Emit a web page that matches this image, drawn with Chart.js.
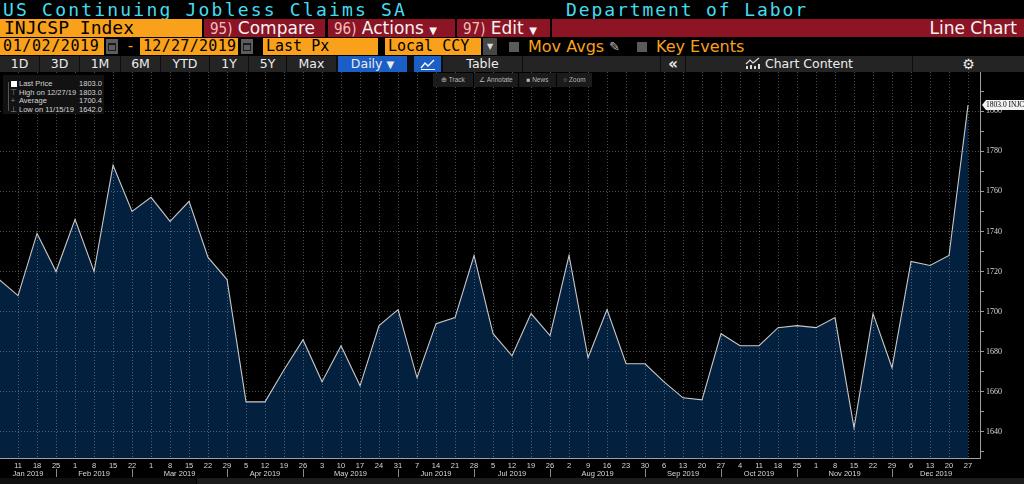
<!DOCTYPE html>
<html>
<head>
<meta charset="utf-8">
<script src="https://cdn.jsdelivr.net/npm/chart.js@4.4.1/dist/chart.umd.min.js"></script>
<style>
  html, body { margin: 0; padding: 0; background: #000; }
  body { width: 1024px; height: 484px; position: relative; overflow: hidden; font-family: "DejaVu Sans", sans-serif; }
  .b { position: absolute; box-sizing: border-box; white-space: nowrap; overflow: hidden; }
  .mono { font-family: "DejaVu Sans Mono", monospace; }
  .org { background: #f9a11b; color: #000; }
  .red { background: #8c1424; color: #f4f4f4; font-size: 17px; line-height: 18px; top: 19px; height: 18px; padding-left: 6px; }
  .red .n { font-family: "Liberation Sans Narrow", "DejaVu Sans Condensed", sans-serif; color: #efc0c0; font-size: 15px; }
  .r3 { top: 38px; height: 17px; line-height: 17px; font-size: 15px; padding-left: 3px; }
  .ico { top: 39px; height: 15px; width: 12px; background: #5c5c5c; }
  .ico i { position: absolute; left: 2px; top: 4px; width: 6px; height: 5px; border: 1px solid #1a1a1a; border-top-width: 2px; }
  .tb { top: 56px; height: 16px; line-height: 16px; background: #242424; color: #ececec; font-size: 12.5px; text-align: center; }
  .chk { top: 42px; width: 10px; height: 10px; background: #5a5a5a; }
  .otx { top: 38px; line-height: 17px; color: #f9a11b; font-size: 16px; }
  .tool { top: 73px; height: 14px; line-height: 14px; background: #1b1b1b; color: #b8b8b8; font-size: 6.5px; text-align: center; font-family: "Liberation Sans", sans-serif; z-index: 3; }
  #legend { left: 3px; top: 75px; width: 101px; height: 39px; background: #121212; z-index: 3; font-family: "Liberation Sans", sans-serif; font-size: 7.5px; color: #d4d4d4; }
  #legend .row { position: absolute; left: 0; width: 100%; height: 9px; line-height: 9px; }
  #legend .lab { position: absolute; left: 16px; }
  #legend .val { position: absolute; right: 2px; }
  #legend .sym { position: absolute; left: 6px; width: 8px; text-align: center; color: #8a8a8a; }
  #wrap { position: absolute; left: 0; top: 72px; width: 1024px; height: 406px; }
</style>
</head>
<body>
<!-- title row -->
<div class="b mono" style="left:3px;top:0;height:19px;line-height:19px;font-size:18px;letter-spacing:2.2px;color:#44dcee;">US Continuing Jobless Claims SA</div>
<div class="b mono" style="left:566px;top:0;height:19px;line-height:19px;font-size:18px;letter-spacing:1.9px;color:#44dcee;">Department of Labor</div>

<!-- ticker / action row -->
<div class="b mono org" style="left:0;top:19px;width:202px;height:18px;line-height:18px;font-size:18px;padding-left:4px;">INJCSP Index</div>
<div class="b red" style="left:204px;width:121px;"><span class="n">95)</span> Compare</div>
<div class="b red" style="left:328px;width:127px;"><span class="n">96)</span> Actions <span style="font-size:10px">▼</span></div>
<div class="b red" style="left:457px;width:93px;"><span class="n">97)</span> Edit <span style="font-size:10px">▼</span></div>
<div class="b red" style="left:552px;width:472px;text-align:right;padding-right:7px;">Line Chart</div>

<!-- date range row -->
<div class="b mono org r3" style="left:0;width:104px;letter-spacing:0.6px;">01/02/2019</div>
<div class="b ico" style="left:106px;"><i></i></div>
<div class="b mono" style="left:126px;top:38px;line-height:17px;font-size:15px;color:#f9a11b;">-</div>
<div class="b mono org r3" style="left:140px;width:98px;letter-spacing:0.3px;">12/27/2019</div>
<div class="b ico" style="left:241px;"><i></i></div>
<div class="b mono org r3" style="left:263px;width:115px;">Last Px</div>
<div class="b mono org r3" style="left:385px;width:96px;">Local CCY</div>
<div class="b" style="left:483px;top:38px;width:14px;height:17px;line-height:17px;background:#464646;color:#ddd;font-size:8px;text-align:center;">▼</div>
<div class="b chk" style="left:509px;"></div>
<div class="b otx" style="left:528px;">Mov Avgs</div>
<div class="b" style="left:609px;top:38px;line-height:17px;font-size:13px;color:#bdbdbd;">✎</div>
<div class="b chk" style="left:637px;"></div>
<div class="b otx" style="left:656px;">Key Events</div>

<!-- period buttons row -->
<div class="b" style="left:0;top:56px;width:1024px;height:16px;background:#0d0d0d;"></div>
<div class="b tb" style="left:0;width:39px;">1D</div>
<div class="b tb" style="left:40px;width:39px;">3D</div>
<div class="b tb" style="left:80px;width:40px;">1M</div>
<div class="b tb" style="left:121px;width:39px;">6M</div>
<div class="b tb" style="left:161px;width:48px;">YTD</div>
<div class="b tb" style="left:210px;width:38px;">1Y</div>
<div class="b tb" style="left:249px;width:37px;">5Y</div>
<div class="b tb" style="left:287px;width:49px;">Max</div>
<div class="b tb" style="left:338px;width:69px;background:#1b5fc6;">Daily <span style="font-size:10px">▼</span></div>
<div class="b tb" style="left:414px;width:27px;background:#1b5fc6;"><svg width="16" height="12" style="margin-top:2px" viewBox="0 0 16 12"><polyline points="1,10 5,5 8,8 14,2" fill="none" stroke="#fff" stroke-width="1.3"/><line x1="1" y1="11.5" x2="15" y2="11.5" stroke="#fff" stroke-width="1"/></svg></div>
<div class="b tb" style="left:443px;width:79px;">Table</div>
<div class="b tb" style="left:523px;width:137px;"></div>
<div class="b tb" style="left:661px;width:24px;font-weight:bold;font-size:15px;">«</div>
<div class="b tb" style="left:686px;width:226px;"><svg width="16" height="12" style="vertical-align:-1px" viewBox="0 0 16 12"><polyline points="1,7 5,3 8,6 14,1" fill="none" stroke="#ddd" stroke-width="1.2"/><rect x="1" y="9" width="2" height="3" fill="#ddd"/><rect x="5" y="8" width="2" height="4" fill="#ddd"/><rect x="9" y="9" width="2" height="3" fill="#ddd"/><rect x="13" y="7" width="2" height="5" fill="#ddd"/></svg> Chart Content</div>
<div class="b tb" style="left:913px;width:111px;font-size:14px;">⚙</div>

<!-- chart tools -->
<div class="b tool" style="left:433px;width:40px;">⊕ Track</div>
<div class="b tool" style="left:474px;width:44px;">∠ Annotate</div>
<div class="b tool" style="left:519px;width:37px;">■ News</div>
<div class="b tool" style="left:557px;width:35px;">○ Zoom</div>

<div class="b" id="legend"></div>

<div id="wrap"><canvas id="chart"></canvas></div>
<div class="b" style="left:0;top:478px;width:196px;height:6px;background:#0f0f0f;"></div>
<div class="b" style="left:197px;top:478px;width:827px;height:6px;background:#1c1c1c;"></div>

<script>
// weekly observation dates (week ending)
const dates = ['2019-01-04','2019-01-11','2019-01-18','2019-01-25','2019-02-01','2019-02-08','2019-02-15','2019-02-22',
  '2019-03-01','2019-03-08','2019-03-15','2019-03-22','2019-03-29','2019-04-05','2019-04-12','2019-04-19','2019-04-26',
  '2019-05-03','2019-05-10','2019-05-17','2019-05-24','2019-05-31','2019-06-07','2019-06-14','2019-06-21','2019-06-28',
  '2019-07-05','2019-07-12','2019-07-19','2019-07-26','2019-08-02','2019-08-09','2019-08-16','2019-08-23','2019-08-30',
  '2019-09-06','2019-09-13','2019-09-20','2019-09-27','2019-10-04','2019-10-11','2019-10-18','2019-10-25',
  '2019-11-01','2019-11-08','2019-11-15','2019-11-22','2019-11-29','2019-12-06','2019-12-13','2019-12-20','2019-12-27'];

// continuing claims, thousands
const claims = [1716, 1708, 1739, 1720, 1746, 1720, 1773, 1750,
  1757, 1745, 1755, 1727, 1716, 1655, 1655, 1671, 1686,
  1665, 1683, 1663, 1693, 1701, 1667, 1694, 1697, 1728,
  1689, 1678, 1699, 1688, 1728, 1677, 1701, 1674, 1674,
  1665, 1657, 1656, 1689, 1683, 1683, 1692, 1693,
  1692, 1697, 1642, 1699, 1672, 1725, 1723, 1728, 1803];

const monthNames = ['Jan','Feb','Mar','Apr','May','Jun','Jul','Aug','Sep','Oct','Nov','Dec'];
const yLabels = [1640, 1660, 1680, 1700, 1720, 1740, 1760, 1780, 1800];
const yMinor = [1630, 1650, 1670, 1690, 1710, 1730, 1750, 1770, 1790, 1810];

const legendLabels = ['Last Price', 'High on 12/27/19', 'Average', 'Low on 11/15/19'];
const legendValues = ['1803.0', '1803.0', '1700.4', '1642.0'];
const legendSyms = ['', '⊤', '+', '⊥'];

// legend box
const lg = document.getElementById('legend');
legendLabels.forEach((l, i) => {
  const row = document.createElement('div');
  row.className = 'row';
  row.style.top = (4 + i * 8.5) + 'px';
  const sym = i === 0
    ? '<span class="sym" style="left:8px;top:1.5px;width:6px;height:6px;background:#fff;"></span>'
    : '<span class="sym">' + legendSyms[i] + '</span>';
  row.innerHTML = sym + '<span class="lab">' + l + '</span><span class="val">' + legendValues[i] + '</span>';
  lg.appendChild(row);
});
const bracket = document.createElement('div');
bracket.style.cssText = 'position:absolute;left:5px;top:7px;width:1px;height:29px;background:#555;';
lg.appendChild(bracket);

const sansFont = "'Liberation Sans', 'DejaVu Sans', sans-serif";
const serifFont = "'Liberation Serif', 'DejaVu Serif', serif";
const gridCol = 'rgba(255,255,255,0.3)';

// month names under the day ticks, with separators at each month's last week
const monthRow = {
  id: 'monthRow',
  afterDraw(chart) {
    const { ctx, chartArea } = chart;
    const x = chart.scales.x;
    ctx.save();
    ctx.font = '7.5px ' + sansFont;
    ctx.fillStyle = '#d8d8d8';
    ctx.textAlign = 'center';
    ctx.textBaseline = 'middle';
    ctx.strokeStyle = '#8a8a8a';
    ctx.lineWidth = 1;
    let segStart = chartArea.left;
    monthNames.forEach((m, mi) => {
      const idx = [];
      dates.forEach((d, i) => { if (+d.slice(5, 7) === mi + 1) idx.push(i); });
      if (!idx.length) return;
      const isLast = mi === monthNames.length - 1;
      const end = isLast ? chartArea.right : x.getPixelForValue(idx[idx.length - 1]);
      ctx.fillText(m + ' ' + dates[idx[0]].slice(0, 4), (segStart + end) / 2, chartArea.bottom + 15.5);
      if (!isLast) {
        const px = Math.round(end) + 0.5;
        ctx.beginPath();
        ctx.moveTo(px, chartArea.bottom + 11);
        ctx.lineTo(px, chartArea.bottom + 19);
        ctx.stroke();
      }
      segStart = end;
    });
    ctx.restore();
  }
};

// white price tag on the right axis
const lastTag = {
  id: 'lastTag',
  afterDraw(chart) {
    const { ctx, chartArea } = chart;
    const y = chart.scales.y;
    const v = claims[claims.length - 1];
    const py = Math.round(y.getPixelForValue(v));
    const x0 = chartArea.right + 2;
    ctx.save();
    ctx.fillStyle = '#f2f2f2';
    ctx.beginPath();
    ctx.moveTo(x0, py);
    ctx.lineTo(x0 + 4, py - 5);
    ctx.lineTo(x0 + 70, py - 5);
    ctx.lineTo(x0 + 70, py + 5);
    ctx.lineTo(x0 + 4, py + 5);
    ctx.closePath();
    ctx.fill();
    ctx.fillStyle = '#000';
    ctx.font = '7.5px ' + serifFont;
    ctx.textBaseline = 'middle';
    ctx.fillText(v.toFixed(1) + ' INJCSP', x0 + 4, py + 0.5);
    ctx.restore();
  }
};

// drop the label overhang padding so the plot fills the canvas edge to edge
const noPad = s => { s.paddingTop = 0; s.paddingBottom = 0; s.paddingLeft = 0; s.paddingRight = 0; };

new Chart(document.getElementById('chart'), {
  type: 'line',
  data: {
    datasets: [{
      data: claims.map((v, i) => ({ x: i, y: v })),
      borderColor: '#c8c8c8',
      borderWidth: 1.1,
      backgroundColor: '#04203f',
      fill: 'start',
      pointRadius: 0,
      tension: 0
    }]
  },
  options: {
    responsive: true,
    maintainAspectRatio: false,
    animation: false,
    layout: { padding: 0 },
    plugins: { legend: { display: false }, tooltip: { enabled: false } },
    scales: {
      x: {
        type: 'linear',
        min: 0.05,
        max: 51.63,
        afterBuildTicks: s => { s.ticks = dates.map((d, i) => ({ value: i })).slice(1); },
        afterFit: s => { s.height = 20; noPad(s); },
        grid: { color: gridCol, lineWidth: 1, drawTicks: false, z: 1 },
        border: { color: '#a0a0a0', dash: [1, 2], z: 2 },
        ticks: {
          autoSkip: false, maxRotation: 0, padding: 3,
          color: '#d8d8d8', font: { family: sansFont, size: 7.5 },
          callback: v => String(+dates[v].slice(8))
        }
      },
      y: {
        position: 'right',
        min: 1627,
        max: 1819.5,
        afterBuildTicks: s => { s.ticks = yLabels.concat(yMinor).sort((a, b) => a - b).map(v => ({ value: v })); },
        afterFit: s => { s.width = 44; noPad(s); },
        grid: {
          color: c => (c.tick && yLabels.includes(c.tick.value)) ? gridCol : 'rgba(0,0,0,0)',
          tickColor: '#9a9a9a', tickLength: 4, z: 1
        },
        border: { color: '#a0a0a0', dash: [1, 2], z: 2 },
        ticks: {
          padding: 2, color: '#d8d8d8', font: { family: serifFont, size: 8 },
          callback: v => yLabels.includes(v) ? String(v) : ''
        }
      }
    }
  },
  plugins: [monthRow, lastTag]
});
</script>
</body>
</html>
